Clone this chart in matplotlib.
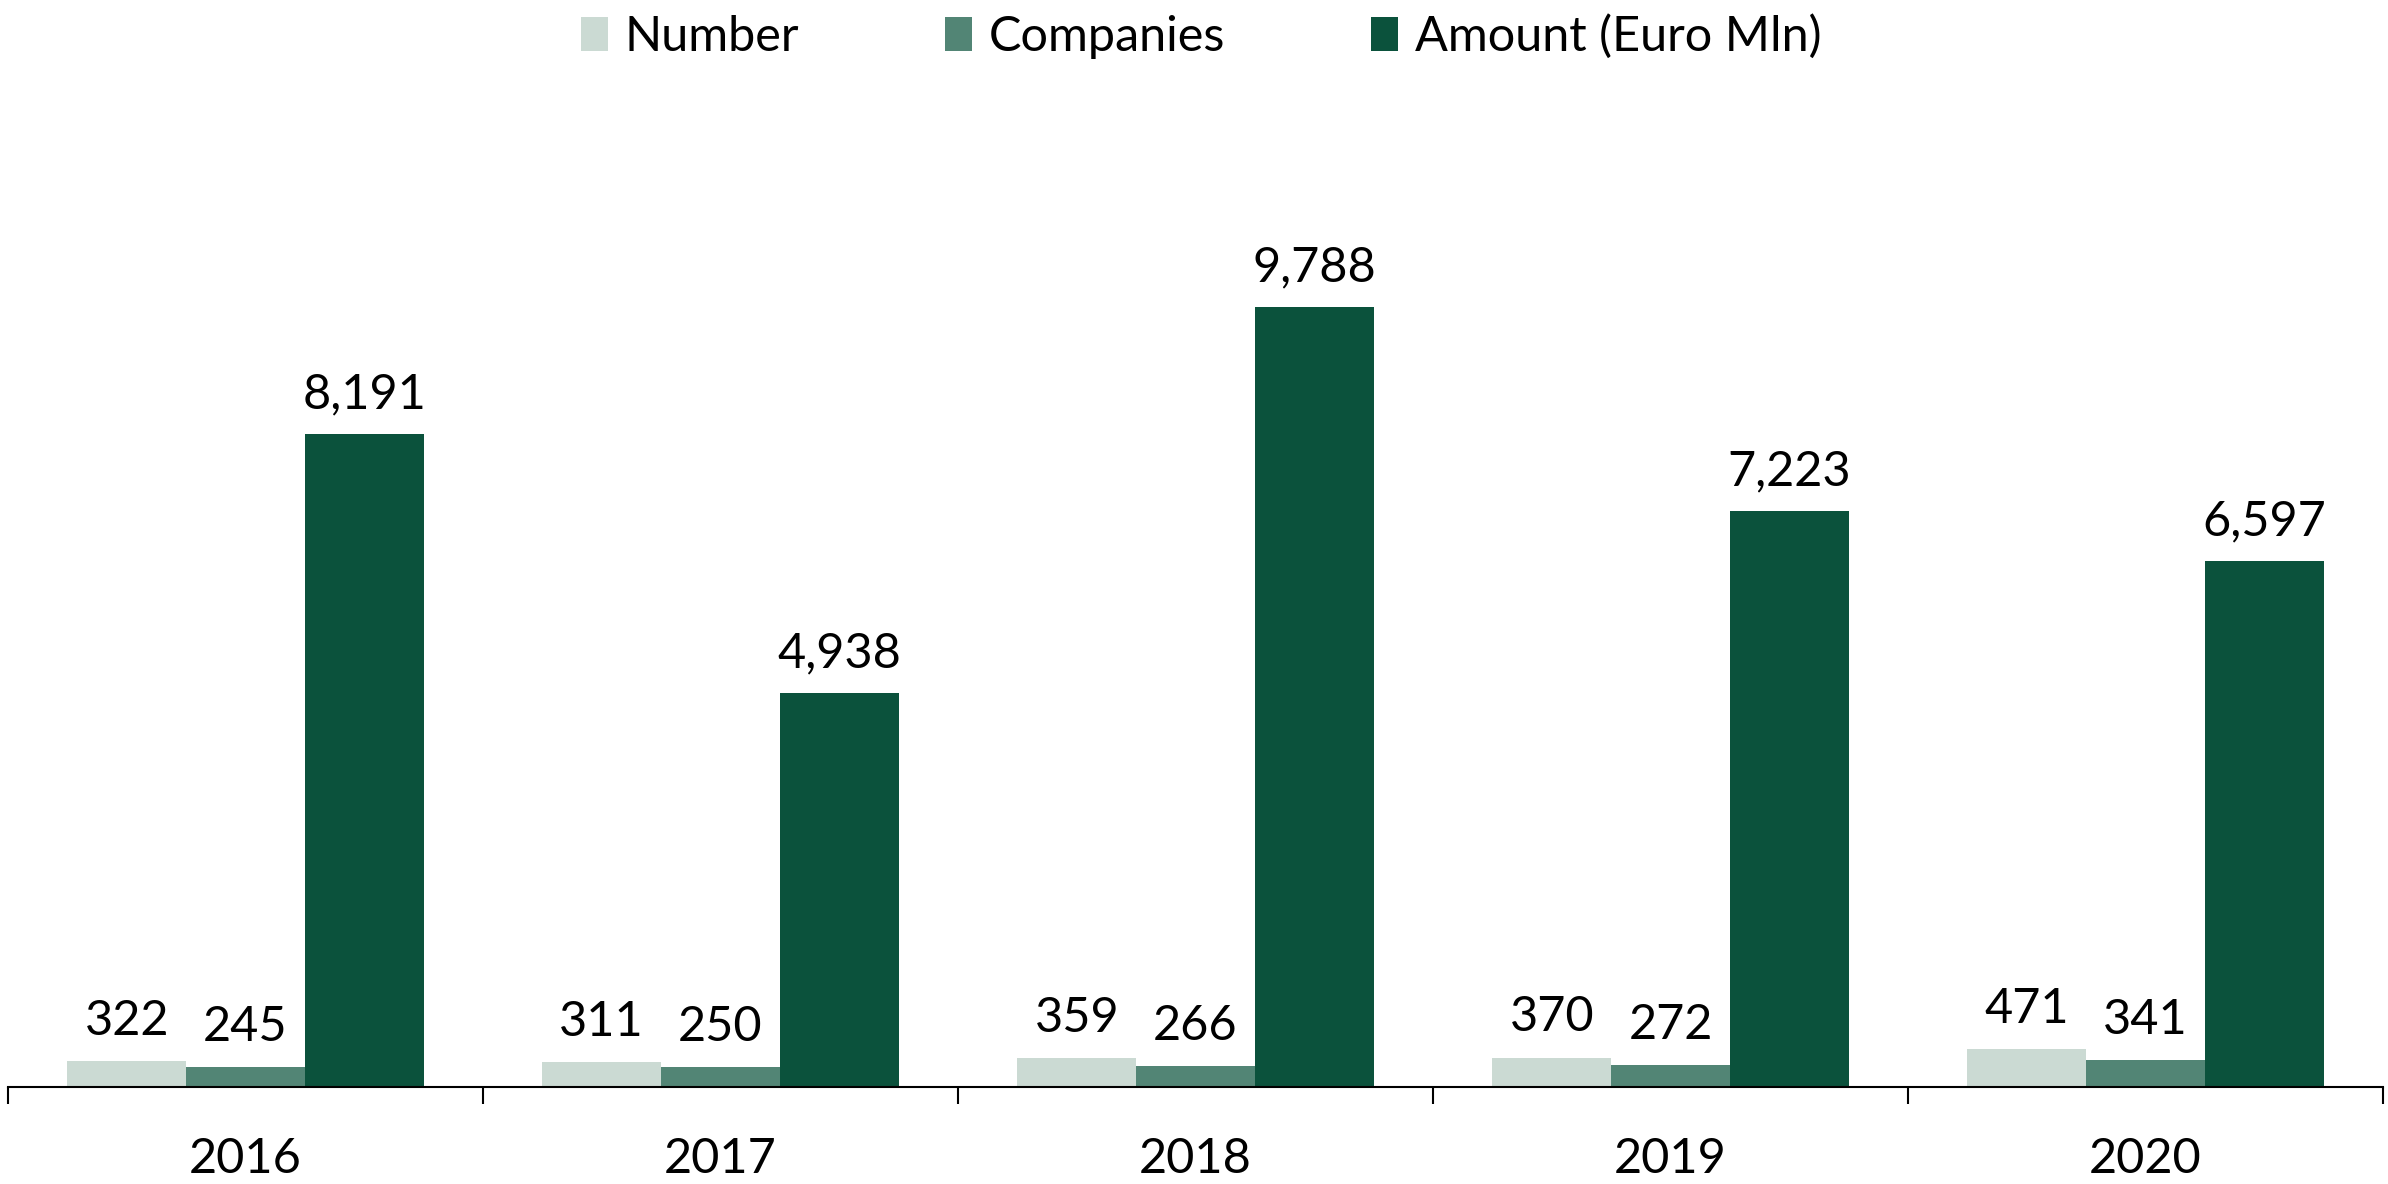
import matplotlib
matplotlib.use("Agg")
import matplotlib.pyplot as plt
import numpy as np

years = ["2016", "2017", "2018", "2019", "2020"]
number = [322, 311, 359, 370, 471]
companies = [245, 250, 266, 272, 341]
amount = [8191, 4938, 9788, 7223, 6597]
series_names = ["Number", "Companies", "Amount (Euro Mln)"]
colors = ["#cbdad3", "#528575", "#0b523c"]

plt.rcParams['font.family'] = ['Lato', 'DejaVu Sans']

fig = plt.figure(figsize=(23.88, 11.84), dpi=100)
ax = fig.add_axes([8/2388, 97/1184, (2383-8)/2388, 0.80])

x = np.arange(len(years))
w = 0.25
for i, (vals, name, c) in enumerate(zip([number, companies, amount], series_names, colors)):
    pos = x + (i - 1) * w
    ax.bar(pos, vals, width=w, color=c, label=name)
    for p, v in zip(pos, vals):
        ax.annotate(f"{v:,}", (p, v), xytext=(0, 13), textcoords="offset points",
                    ha="center", va="bottom", fontsize=35, color="black")

ax.set_xlim(-0.5, len(years) - 0.5)
ax.set_ylim(0, 11886)
for s in ["top", "right", "left"]:
    ax.spines[s].set_visible(False)
ax.spines["bottom"].set_linewidth(1.5)
ax.set_yticks([])
ax.set_xticks(np.arange(-0.5, len(years)), minor=False)
ax.set_xticklabels([])
ax.tick_params(axis="x", direction="out", length=12, width=1.5)
ax.set_xticks(x, minor=True)
ax.set_xticklabels(years, minor=True, fontsize=35)
ax.tick_params(axis="x", which="minor", length=0, pad=36)

leg = fig.legend(loc="upper center", bbox_to_anchor=(0.503, 1.025), ncol=3, frameon=False,
                 fontsize=35, handlelength=0.55, handleheight=0.7, columnspacing=3.0, handletextpad=0.35)

fig.savefig("out.png", dpi=100)
